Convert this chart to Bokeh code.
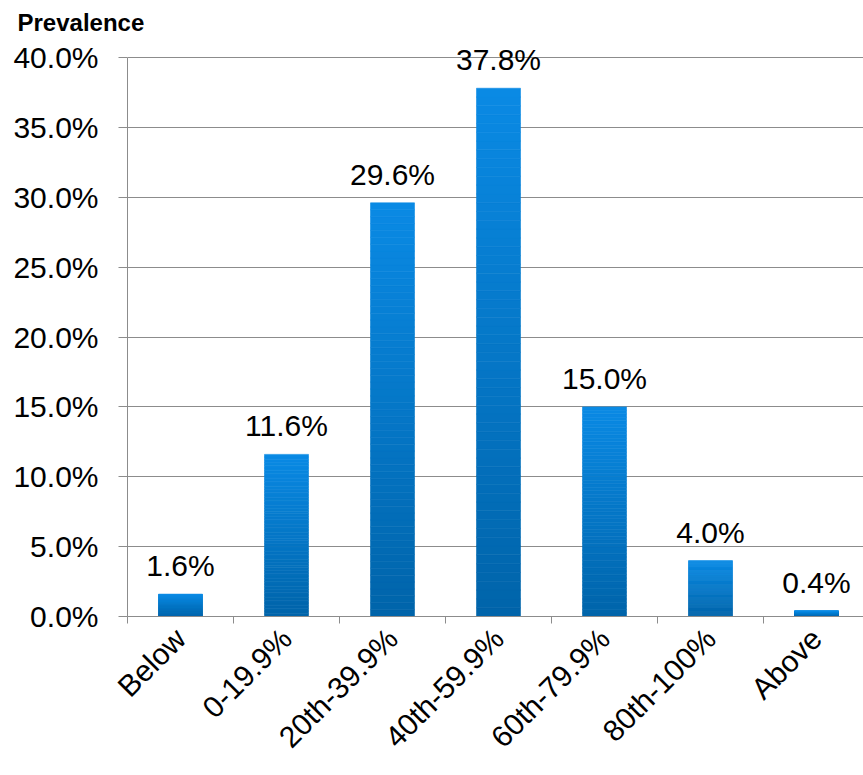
import numpy as np
from bokeh.plotting import figure
from bokeh.models import (ColumnDataSource, FixedTicker, LinearAxis, Range1d,
                          PrintfTickFormatter, LabelSet)
from bokeh.core.properties import value
from bokeh.embed import file_html
from bokeh.resources import INLINE

categories = ["Below", "0-19.9%", "20th-39.9%", "40th-59.9%", "60th-79.9%", "80th-100%", "Above"]
values = [1.6, 11.6, 29.6, 37.8, 15.0, 4.0, 0.4]
value_labels = ["1.6%", "11.6%", "29.6%", "37.8%", "15.0%", "4.0%", "0.4%"]
y_ticks = [0, 5, 10, 15, 20, 25, 30, 35, 40]
y_axis_title = "Prevalence"

FONT = "Liberation Sans"
GRAY = "#8c8c8c"
TOP_COL = np.array([0x0A, 0x8A, 0xE4])
BOT_COL = np.array([0x00, 0x64, 0xAA])

W, H = 863, 775
LEFT, TOP, BOTTOM = 127, 36, 159
CAT_PX = 106.0
PX_PER_UNIT = (616 - 57) / 40.0
x_end = (W - LEFT) / CAT_PX
y_end = 40 + (57 - TOP) / PX_PER_UNIT

p = figure(width=W, height=H, output_backend="svg", toolbar_location=None,
           x_range=Range1d(0, x_end), y_range=Range1d(0, y_end),
           min_border_left=LEFT, min_border_right=0, min_border_top=TOP,
           min_border_bottom=BOTTOM, x_axis_location=None, y_axis_location=None,
           title=y_axis_title)
p.outline_line_color = None
p.background_fill_color = "white"
p.border_fill_color = "white"

p.title.align = "left"
p.title.offset = 17 - LEFT
p.title.text_font = FONT
p.title.text_font_size = "24px"
p.title.text_font_style = "bold"
p.title.text_color = "black"
p.title.standoff = 2

# gradient bars built from slices
N = 60
xs_l, xs_r, bots, tops, cols = [], [], [], [], []
bw = 0.415
for i, v in enumerate(values):
    c = i + 0.5
    for k in range(N):
        t = (k + 0.5) / N
        rgb = BOT_COL + (TOP_COL - BOT_COL) * t
        xs_l.append(c - bw / 2)
        xs_r.append(c + bw / 2)
        bots.append(v * k / N)
        tops.append(v * (k + 1) / N)
        cols.append("#%02x%02x%02x" % tuple(int(round(q)) for q in rgb))
src = ColumnDataSource(dict(left=xs_l, right=xs_r, bottom=bots, top=tops, color=cols))

# y axis
yax = LinearAxis(ticker=FixedTicker(ticks=y_ticks),
                 formatter=PrintfTickFormatter(format="%.1f%%"))
yax.bounds = (0, 40)
yax.axis_line_color = GRAY
yax.major_tick_line_color = GRAY
yax.major_tick_out = 9
yax.major_tick_in = 0
yax.minor_tick_line_color = None
yax.major_label_text_font = FONT
yax.major_label_text_font_size = "30px"
yax.major_label_text_color = "black"
yax.major_label_standoff = 20
p.add_layout(yax, "left")

p.xgrid.visible = False
p.ygrid.ticker = FixedTicker(ticks=y_ticks)
p.ygrid.grid_line_color = GRAY
p.ygrid.grid_line_width = 1

p.quad(left="left", right="right", bottom="bottom", top="top", source=src,
       fill_color="color", line_color="color", line_width=0.6)

# x axis
centers = [i + 0.5 for i in range(len(categories))]
xax = LinearAxis(ticker=FixedTicker(ticks=centers, minor_ticks=list(range(len(categories) + 1))))
xax.major_label_overrides = {c: lab for c, lab in zip(centers, categories)}
xax.major_label_orientation = np.pi / 4
xax.axis_line_color = GRAY
xax.major_tick_line_color = None
xax.minor_tick_line_color = GRAY
xax.minor_tick_out = 7
xax.minor_tick_in = 0
xax.major_label_text_font = FONT
xax.major_label_text_font_size = "30px"
xax.major_label_text_color = "black"
xax.major_label_standoff = 10
p.add_layout(xax, "below")

# value labels
lsrc = ColumnDataSource(dict(x=centers, y=values, text=value_labels))
labels = LabelSet(x="x", y="y", text="text", source=lsrc, y_offset=18,
                  text_align="center", text_baseline="alphabetic",
                  text_font=value(FONT), text_font_size=value("30px"),
                  text_color="black")
p.add_layout(labels)

open("out.html", "w").write(file_html(p, INLINE))
